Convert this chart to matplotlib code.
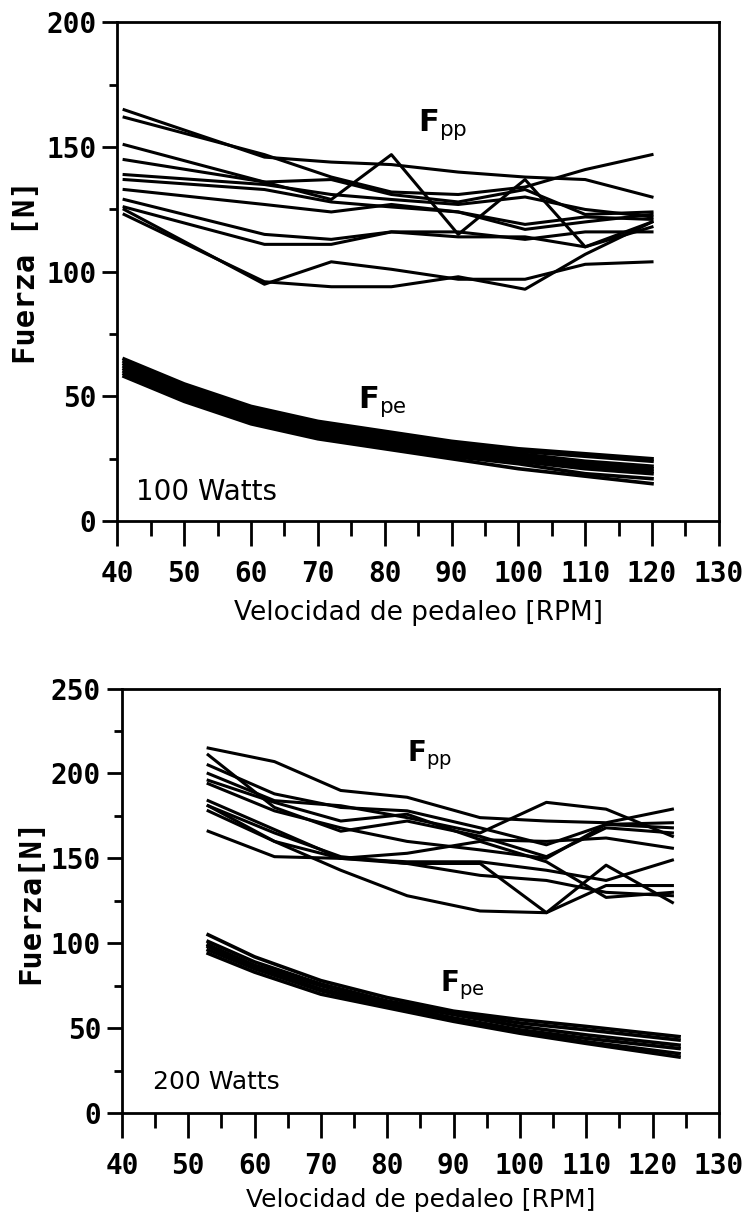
import numpy as np
import matplotlib.pyplot as plt

# Panel superior: 100 Watts
x_pp_100 = [41, 62, 72, 81, 91, 101, 110, 120]
fpp_100 = [
    [165, 146, 144, 143, 140, 138, 137, 130],
    [162, 147, 138, 132, 131, 134, 141, 147],
    [151, 136, 129, 147, 115, 137, 110, 120],
    [145, 136, 137, 131, 128, 133, 123, 124],
    [139, 135, 131, 129, 127, 130, 125, 122],
    [137, 133, 128, 126, 124, 117, 120, 123],
    [133, 127, 124, 127, 124, 119, 122, 121],
    [129, 115, 113, 116, 114, 114, 110, 118],
    [126, 111, 111, 116, 116, 113, 116, 116],
    [125, 95, 104, 101, 97, 97, 103, 104],
    [123, 96, 94, 94, 98, 93, 107, 120],
]
x_pe_100 = [41, 50, 60, 70, 80, 90, 100, 110, 120]
fpe_100 = [
    [65, 55, 46, 40, 36, 32, 29, 27, 25],
    [64, 54, 45, 39, 35, 31, 28, 26, 24],
    [63, 53, 44, 38, 34, 30, 27, 24, 22],
    [62, 52, 43, 37, 33, 29, 26, 23, 21],
    [61, 51, 42, 36, 32, 28, 25, 22, 20],
    [60, 50, 41, 35, 31, 27, 24, 21, 19],
    [59, 49, 40, 34, 30, 26, 23, 19, 17],
    [58, 48, 39, 33, 29, 25, 21, 18, 15],
]

# Panel inferior: 200 Watts
x_pp_200 = [53, 63, 73, 83, 94, 104, 113, 123]
fpp_200 = [
    [215, 207, 190, 186, 174, 172, 171, 179],
    [211, 180, 166, 172, 163, 151, 168, 165],
    [205, 188, 180, 178, 168, 158, 170, 171],
    [200, 184, 181, 174, 165, 183, 179, 163],
    [196, 183, 172, 176, 161, 160, 162, 156],
    [194, 178, 168, 160, 155, 150, 170, 168],
    [184, 167, 150, 148, 148, 143, 137, 149],
    [181, 165, 151, 147, 147, 118, 146, 124],
    [178, 160, 150, 153, 160, 148, 127, 130],
    [181, 160, 143, 128, 119, 118, 134, 134],
    [166, 151, 150, 147, 140, 137, 130, 128],
]
x_pe_200 = [53, 60, 70, 80, 90, 100, 110, 124]
fpe_200 = [
    [105, 92, 78, 68, 60, 55, 51, 45],
    [101, 89, 76, 66, 59, 53, 49, 43],
    [99, 87, 75, 65, 58, 51, 46, 40],
    [98, 86, 73, 64, 56, 49, 44, 38],
    [96, 85, 72, 63, 55, 48, 42, 35],
    [94, 83, 70, 62, 54, 47, 41, 33],
]

x_ticks = [40, 50, 60, 70, 80, 90, 100, 110, 120, 130]

mono = 'DejaVu Sans Mono'

fig = plt.figure(figsize=(7.48, 12.16), dpi=100)
ax1 = fig.add_axes([0.157, 0.5715, 0.804, 0.410])
ax2 = fig.add_axes([0.163, 0.0847, 0.798, 0.349])


def estilo(ax, ymax, ystep, ylabel, xpad):
    ax.set_xlim(40, 130)
    ax.set_ylim(0, ymax)
    ax.set_xticks(x_ticks)
    ax.set_xticks(np.arange(45, 130, 10), minor=True)
    ax.set_yticks(np.arange(0, ymax + 1, ystep))
    ax.set_yticks(np.arange(ystep / 2, ymax, ystep), minor=True)
    for s in ax.spines.values():
        s.set_linewidth(2)
    ax.tick_params(axis='x', which='major', direction='out', length=18, width=2, pad=xpad)
    ax.tick_params(axis='x', which='minor', direction='out', length=11, width=2)
    ax.tick_params(axis='y', which='major', direction='out', length=11, width=2, pad=4)
    ax.tick_params(axis='y', which='minor', direction='out', length=6, width=2)
    for lab in ax.get_xticklabels():
        lab.set_fontfamily(mono)
        lab.set_fontweight('bold')
        lab.set_fontsize(20)
    for lab in ax.get_yticklabels():
        lab.set_fontfamily(mono)
        lab.set_fontweight('bold')
        lab.set_fontsize(20)
    ax.set_ylabel(ylabel, fontfamily=mono, fontweight='bold', fontsize=22)


for y in fpp_100:
    ax1.plot(x_pp_100, y, color='black', lw=2.2)
for y in fpe_100:
    ax1.plot(x_pe_100, y, color='black', lw=2.6)
estilo(ax1, 200, 50, 'Fuerza [N]', 10)
ax1.set_xlabel('Velocidad de pedaleo [RPM]', fontsize=19, labelpad=9)
ax1.text(85, 159, r'$\mathbf{F}_{\mathrm{pp}}$', fontsize=22, ha='left', va='center')
ax1.text(76, 48, r'$\mathbf{F}_{\mathrm{pe}}$', fontsize=22, ha='left', va='center')
ax1.text(42.8, 11.5, '100 Watts', fontsize=20, ha='left', va='center')

for y in fpp_200:
    ax2.plot(x_pp_200, y, color='black', lw=2.2)
for y in fpe_200:
    ax2.plot(x_pe_200, y, color='black', lw=2.6)
estilo(ax2, 250, 50, 'Fuerza[N]', 10)
ax2.set_xlabel('Velocidad de pedaleo [RPM]', fontsize=18, labelpad=6)
ax2.text(83, 211, r'$\mathbf{F}_{\mathrm{pp}}$', fontsize=20, ha='left', va='center')
ax2.text(88, 75, r'$\mathbf{F}_{\mathrm{pe}}$', fontsize=20, ha='left', va='center')
ax2.text(44.7, 18, '200 Watts', fontsize=18, ha='left', va='center')

fig.savefig('out.png', dpi=100)
